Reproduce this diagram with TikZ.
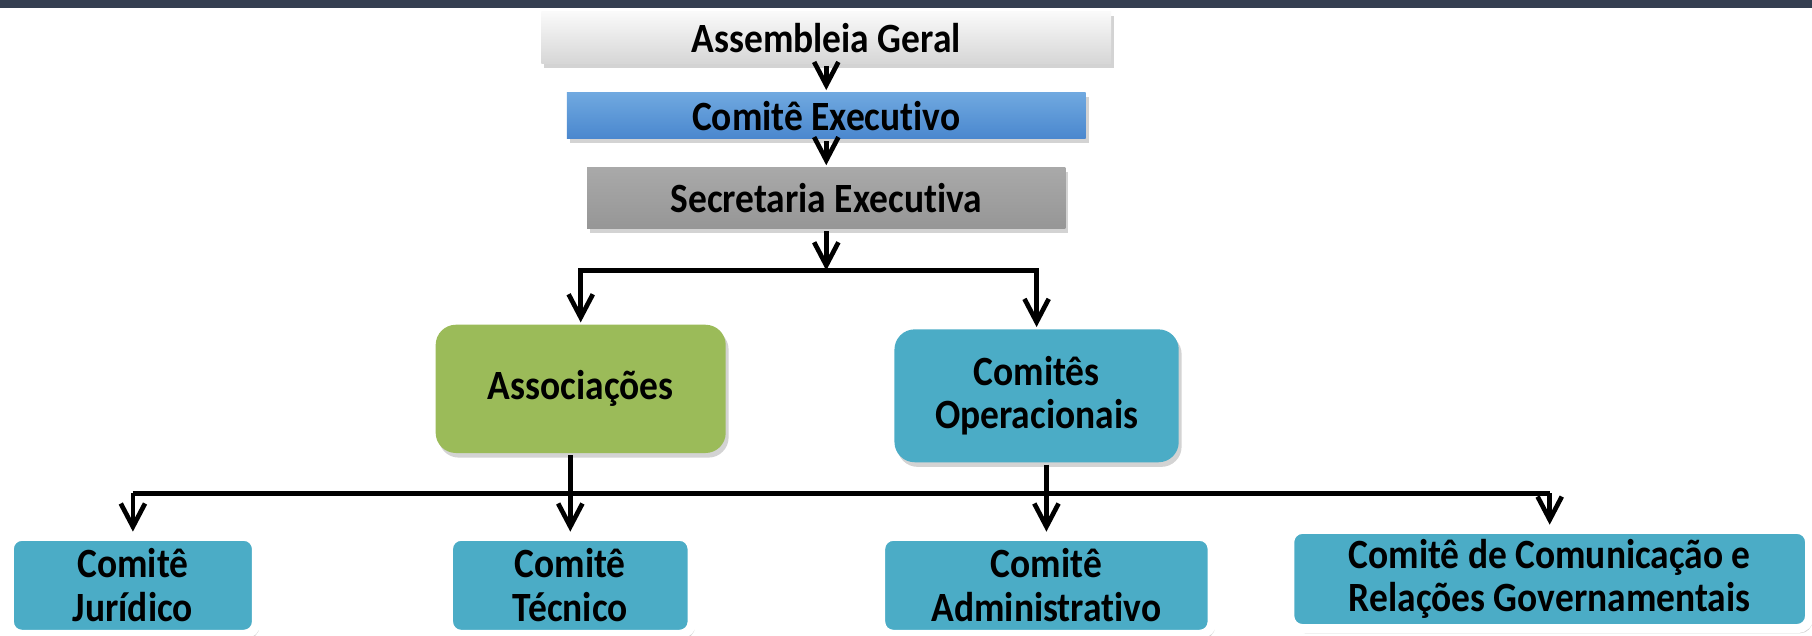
\documentclass[tikz,border=0pt]{standalone}
\usepackage{fontspec}
\setmainfont{Carlito}[Ligatures=NoCommon, FakeStretch=0.9]
\usetikzlibrary{arrows.meta, positioning, shadows}
\definecolor{cbar}{HTML}{353F51}
\definecolor{cteal}{HTML}{4BACC6}
\definecolor{cgreen}{HTML}{9BBB59}
\definecolor{cbluetop}{HTML}{70A9E0}
\definecolor{cbluebot}{HTML}{4A87CE}
\definecolor{cgreytop}{HTML}{A9A9A9}
\definecolor{cgreybot}{HTML}{969696}
\tikzset{
  every picture/.style={font=\bfseries\fontsize{20.5}{21.5}\selectfont, line width=2.3pt},
  box/.style={align=center, inner sep=2pt, drop shadow={shadow xshift=0.05cm, shadow yshift=-0.08cm, opacity=0.35}},
  group/.style={box, fill=#1, rounded corners=0.35cm},
  comite/.style={box, fill=cteal, draw=white, line width=4.5pt, rounded corners=0.22cm, minimum height=1.7cm,
    drop shadow={shadow xshift=0.04cm, shadow yshift=-0.06cm, opacity=0.45}},
  arrow/.style={-{Straight Barb[length=4mm, width=4.2mm]}, draw=black, line width=2.3pt},
  conn/.style={draw=black, line width=2.3pt},
}
\begin{document}
\begin{tikzpicture}
  \useasboundingbox (0,0) rectangle (31.36,-11);
  \fill[cbar] (0,0) rectangle (31.36,-0.14);
  % top of the chart
  \node[box, top color=white!96!gray, bottom color=gray!32, minimum width=9.86cm, minimum height=0.9cm] (ag) at (14.3,-0.65) {Assembleia Geral};
  \node[box, top color=cbluetop, bottom color=cbluebot, minimum width=8.98cm, minimum height=0.8cm] (ce) at (14.3,-2.0) {Comitê Executivo};
  \node[box, top color=cgreytop, bottom color=cgreybot, minimum width=8.28cm, minimum height=1.06cm] (se) at (14.3,-3.43) {Secretaria Executiva};
  \draw[arrow] (ag) -- (ce);
  \draw[arrow] (ce) -- (se);
  % groups
  \node[group=cgreen, minimum width=5.02cm, minimum height=2.22cm] (as) at (10.05,-6.73) {Associações};
  \node[group=cteal, minimum width=4.92cm, minimum height=2.3cm] (co) at (17.94,-6.85) {Comitês\\Operacionais};
  \coordinate (bus1) at (14.3,-4.68);
  \draw[arrow] (se) -- (bus1);
  \draw[arrow] (bus1) -| (as);
  \draw[arrow] (bus1) -| (co);
  % committees
  \node[comite, minimum width=4.28cm] (jur) at (2.3,-10.13) {Comitê\\Jurídico};
  \node[comite, minimum width=4.22cm] (tec) at (9.87,-10.13) {Comitê\\Técnico};
  \node[comite, minimum width=5.74cm] (adm) at (18.11,-10.13) {Comitê\\Administrativo};
  \node[comite, minimum width=9.0cm, minimum height=1.72cm] (rel) at (26.82,-10.02) {Comitê de Comunicação e\\Relações Governamentais};
  \coordinate (bus2) at (14.3,-8.54);
  \draw[conn] (tec |- as.south) -- (tec |- bus2);
  \draw[conn] (adm |- co.south) -- (adm |- bus2);
  \draw[conn] (jur |- bus2) -- (rel |- bus2);
  \foreach \n in {jur,tec,adm,rel} \draw[arrow] (\n |- bus2) -- (\n);
\end{tikzpicture}
\end{document}
